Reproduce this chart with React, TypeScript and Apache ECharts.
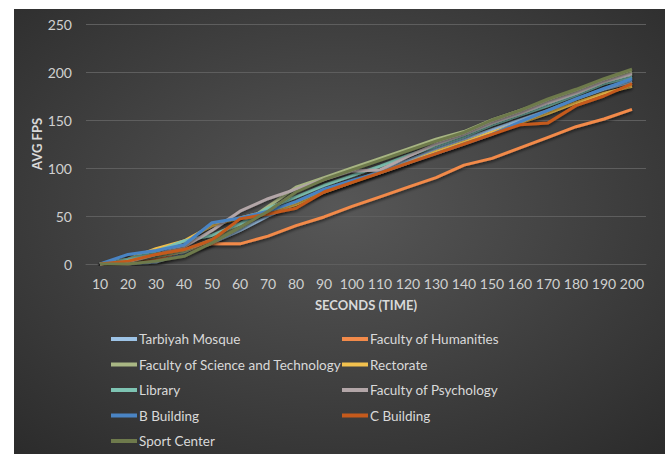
import React, { useEffect, useRef } from "react";
import * as echarts from "echarts";

const categories = ["10","20","30","40","50","60","70","80","90","100","110","120","130","140","150","160","170","180","190","200"];

const tarbiyahMosque = [0,0,2,12,22,35,50,63,75,85,97,108,120,130,140,150,160,172,182,190];
const facultyHumanities = [0,0,5,14,21,21,29,40,49,60,70,80,90,103,110,121,132,143,151,161];
const facultyScienceTech = [0,3,8,13,26,40,60,80,90,100,110,120,130,138,150,160,170,180,192,200];
const rectorate = [0,5,16,24,40,48,55,62,75,85,95,105,117,127,137,147,157,168,178,185];
const library = [0,5,13,24,30,42,58,70,82,92,102,113,123,133,145,155,165,176,188,195];
const facultyPsychology = [0,2,10,18,35,55,68,78,88,97,98,112,125,135,147,157,168,178,190,198];
const bBuilding = [0,10,14,20,43,48,55,65,78,87,95,105,115,125,135,148,160,172,183,193];
const cBuilding = [0,3,10,15,25,47,52,58,75,85,95,105,115,125,135,145,147,165,175,188];
const sportCenter = [0,0,3,8,22,38,55,75,88,98,108,118,128,137,150,160,172,182,193,203];

const seriesNames = [
  "Tarbiyah Mosque","Faculty of Humanities","Faculty of Science and Technology","Rectorate",
  "Library","Faculty of Psychology","B Building","C Building","Sport Center",
];
const seriesData = [tarbiyahMosque, facultyHumanities, facultyScienceTech, rectorate, library, facultyPsychology, bBuilding, cBuilding, sportCenter];
const seriesColors = ["#9dc3e6","#f28a4a","#a9b784","#f2c14e","#7ec4b3","#b3a6a8","#4a84c4","#c55a1c","#6e7a4c"];

const yTicks = [0, 50, 100, 150, 200, 250];

export default function App() {
  const ref = useRef<HTMLDivElement>(null);
  useEffect(() => {
    if (!ref.current) return;
    const chart = echarts.init(ref.current, null, { renderer: "svg" });
    const font = "Lato";
    const legendText = { color: "#d9d9d9", fontSize: 13.5, fontFamily: font, padding: [0, 0, 0, -3] };
    chart.setOption({
      animation: false,
      backgroundColor: "#ffffff",
      graphic: [
        {
          type: "rect",
          z: -10,
          shape: { x: 14, y: 9, width: 651, height: 445 },
          style: {
            fill: {
              type: "radial", x: 0.5, y: 0.45, r: 0.75,
              colorStops: [
                { offset: 0, color: "#575757" },
                { offset: 1, color: "#2b2b2b" },
              ],
            },
          },
          silent: true,
        },
      ],
      grid: { left: 86, width: 560, top: 24, height: 240, containLabel: false },
      xAxis: {
        type: "category",
        data: categories,
        boundaryGap: true,
        name: "SECONDS (TIME)",
        nameLocation: "middle",
        nameGap: 34,
        nameMoveOverlap: false,
        nameTextStyle: { color: "#d9d9d9", fontWeight: "bold", fontSize: 13, fontFamily: font },
        axisLine: { show: true, lineStyle: { color: "#5e5e5e" } },
        axisTick: { show: false },
        axisLabel: { color: "#d0d0d0", fontSize: 14, fontFamily: font, margin: 12, interval: 0 },
      },
      yAxis: {
        type: "value",
        min: 0, max: 250, interval: 50,
        name: "AVG FPS",
        nameLocation: "middle",
        nameGap: 43,
        nameMoveOverlap: false,
        nameTextStyle: { color: "#d9d9d9", fontWeight: "bold", fontSize: 13, fontFamily: font },
        axisLine: { show: false },
        axisTick: { show: false },
        splitLine: { lineStyle: { color: "#5e5e5e", width: 1 } },
        axisLabel: {
          color: "#d0d0d0", fontSize: 14, fontFamily: font, margin: 14,
          formatter: (v: number) => (yTicks.includes(v) ? String(v) : ""),
        },
      },
      legend: [
        {
          data: [seriesNames[0], seriesNames[2], seriesNames[4], seriesNames[6], seriesNames[8]],
          orient: "vertical", left: 111, top: 332, padding: 0, itemWidth: 26, itemHeight: 4, itemGap: 11.5,
          icon: "rect", textStyle: legendText,
        },
        {
          data: [seriesNames[1], seriesNames[3], seriesNames[5], seriesNames[7]],
          orient: "vertical", left: 342, top: 332, padding: 0, itemWidth: 26, itemHeight: 4, itemGap: 11.5,
          icon: "rect", textStyle: legendText,
        },
      ],
      series: seriesNames.map((name, i) => ({
        name,
        type: "line",
        data: seriesData[i],
        showSymbol: false,
        symbol: "none",
        color: seriesColors[i],
        lineStyle: {
          width: 3, color: seriesColors[i],
          shadowColor: "rgba(0,0,0,0.55)", shadowBlur: 3, shadowOffsetY: 2,
        },
      })),
    });
    return () => chart.dispose();
  }, []);
  return (
    <div style={{ position: "fixed", left: 0, top: 0, width: 672, height: 454 }}>
      <div ref={ref} style={{ width: 672, height: 454 }} />
    </div>
  );
}
